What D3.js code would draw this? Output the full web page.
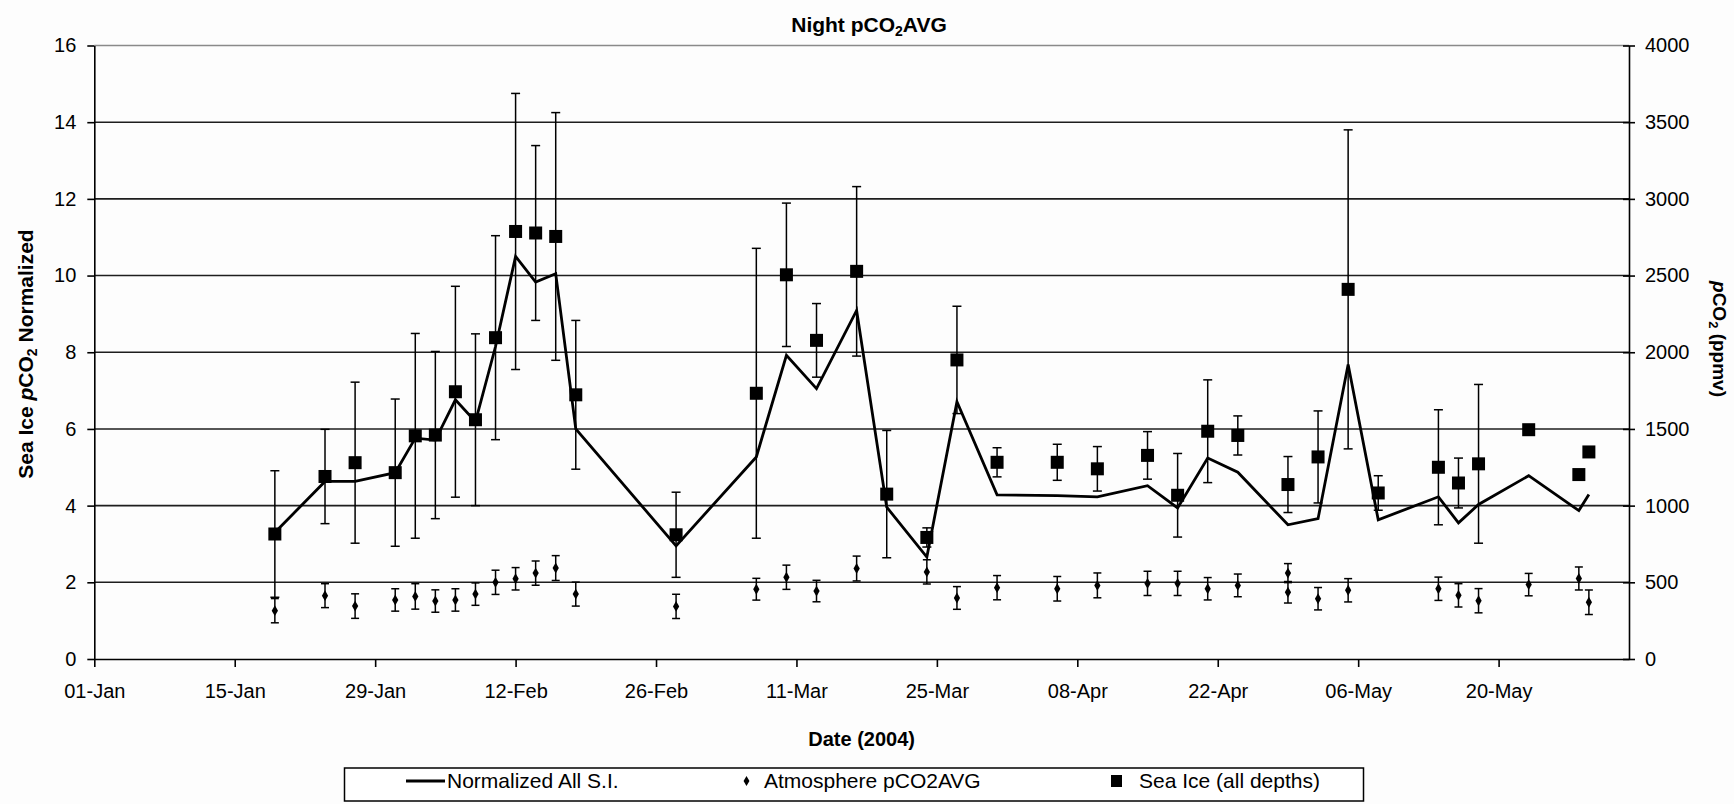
<!DOCTYPE html>
<html>
<head>
<meta charset="utf-8">
<title>Night pCO2AVG</title>
<script src="https://cdn.jsdelivr.net/npm/d3@7"></script>
<style>
  body { margin: 0; background: #fdfdfd; }
  svg { display: block; font-family: "Liberation Sans", Arial, sans-serif; }
  .tick text { font-size: 20px; fill: #000; }
  .domain, .tick line { stroke: #000; stroke-width: 1.6px; }
</style>
</head>
<body>
<svg id="chart" width="1734" height="804"></svg>
<script>
// sea ice (all depths) - sample dates, mean and +/- error
var siDates = ["2004-01-19","2004-01-24","2004-01-27","2004-01-31","2004-02-02","2004-02-04","2004-02-06",
  "2004-02-08","2004-02-10","2004-02-12","2004-02-14","2004-02-16","2004-02-18","2004-02-28","2004-03-07",
  "2004-03-10","2004-03-13","2004-03-17","2004-03-20","2004-03-24","2004-03-27","2004-03-31","2004-04-06",
  "2004-04-10","2004-04-15","2004-04-18","2004-04-21","2004-04-24","2004-04-29","2004-05-02","2004-05-05",
  "2004-05-08","2004-05-14","2004-05-16","2004-05-18","2004-05-23","2004-05-28","2004-05-29"];
var siValues = [3.26,4.76,5.12,4.86,5.82,5.84,6.97,6.24,8.38,11.15,11.11,11.02,6.89,3.24,6.93,
  10.02,8.31,10.11,4.30,3.17,7.80,5.13,5.13,4.96,5.31,4.27,5.94,5.83,4.55,5.27,9.64,
  4.33,5.00,4.59,5.09,5.98,4.81,5.40];
var siErr = [1.65,1.23,2.10,1.92,2.67,2.18,2.75,2.24,2.66,3.60,2.28,3.23,1.94,1.11,3.78,
  1.87,0.96,2.21,1.66,0.25,1.40,0.38,0.47,0.58,0.62,1.09,1.34,0.51,0.73,1.20,4.16,
  0.45,1.50,0.65,2.07,0,0,0];

// normalized all S.I. (same dates as siDates)
var normValues = [3.30,4.63,4.63,4.86,5.76,5.71,6.76,6.19,8.15,10.50,9.83,10.05,6.00,2.95,5.27,
  7.92,7.05,9.09,3.96,2.66,6.71,4.28,4.26,4.23,4.52,3.94,5.24,4.87,3.50,3.66,7.68,
  3.63,4.23,3.55,4.03,4.78,3.87,4.29];

// atmosphere pCO2AVG (ppmv, right axis)
var atmDates = ["2004-01-19","2004-01-24","2004-01-27","2004-01-31","2004-02-02","2004-02-04","2004-02-06",
  "2004-02-08","2004-02-10","2004-02-12","2004-02-14","2004-02-16","2004-02-18","2004-02-28","2004-03-07",
  "2004-03-10","2004-03-13","2004-03-17","2004-03-24","2004-03-27","2004-03-31","2004-04-06","2004-04-10",
  "2004-04-15","2004-04-18","2004-04-21","2004-04-24","2004-04-29","2004-04-29","2004-05-02","2004-05-05",
  "2004-05-14","2004-05-16","2004-05-18","2004-05-23","2004-05-28","2004-05-29"];
var atmValues = [315,413,345,385,408,378,385,423,500,523,560,593,423,343,455,
  533,443,590,568,398,465,458,480,493,493,458,480,560,435,393,448,
  458,415,380,485,525,370];
var atmErr = [79,78,80,73,83,73,73,73,79,73,79,81,78,79,71,
  79,70,81,79,74,79,80,81,79,79,73,74,62,70,73,76,
  76,76,79,73,75,80];

var xTickDates = ["2004-01-01","2004-01-15","2004-01-29","2004-02-12","2004-02-26","2004-03-11",
  "2004-03-25","2004-04-08","2004-04-22","2004-05-06","2004-05-20"];
var leftTicks = [0, 2, 4, 6, 8, 10, 12, 14, 16];
var rightTicks = [0, 500, 1000, 1500, 2000, 2500, 3000, 3500, 4000];
var legendLabels = ["Normalized All S.I.", "Atmosphere pCO2AVG", "Sea Ice (all depths)"];

var parse = d3.utcParse("%Y-%m-%d");
// plot area edges (note: "top" is a reserved window property)
var plotLeft = 94.3, plotRight = 1629, plotTop = 45.5, plotBottom = 659;

var x = d3.scaleUtc()
    .domain([parse("2004-01-01"), parse("2004-06-02")])
    .range([plotLeft, plotRight]);
var yL = d3.scaleLinear().domain([0, 16]).range([plotBottom, plotTop]);
var yR = d3.scaleLinear().domain([0, 4000]).range([plotBottom, plotTop]);

var svg = d3.select("#chart");
svg.append("rect").attr("width", 1734).attr("height", 804).attr("fill", "#fdfdfd");

// gridlines
svg.append("g").selectAll("line")
    .data(leftTicks.filter(d => d > 0))
    .enter().append("line")
    .attr("x1", plotLeft).attr("x2", plotRight)
    .attr("y1", d => yL(d)).attr("y2", d => yL(d))
    .attr("stroke", d => d === 16 ? "#8a8a8a" : "#1e1e1e")
    .attr("stroke-width", 1.6);

// axes
var xAxis = d3.axisBottom(x)
    .tickValues(xTickDates.map(parse))
    .tickFormat(d3.utcFormat("%d-%b"))
    .tickSizeInner(8).tickSizeOuter(0).tickPadding(17);
svg.append("g").attr("transform", "translate(0," + plotBottom + ")").call(xAxis);

svg.append("g").attr("transform", "translate(" + plotLeft + ",0)")
    .call(d3.axisLeft(yL).tickValues(leftTicks).tickSizeInner(7).tickSizeOuter(0).tickPadding(11));

var gr = svg.append("g").attr("transform", "translate(" + plotRight + ",0)")
    .call(d3.axisRight(yR).tickValues(rightTicks).tickFormat(d3.format("d"))
        .tickSizeInner(6).tickSizeOuter(0).tickPadding(10));
gr.selectAll(".tick line").attr("x1", -6);

// normalized line
var line = d3.line()
    .x((d, i) => x(parse(siDates[i])))
    .y(d => yL(d));
svg.append("path")
    .datum(normValues)
    .attr("d", line)
    .attr("fill", "none")
    .attr("stroke", "#000")
    .attr("stroke-width", 2.8)
    .attr("stroke-linejoin", "miter");

// error bars
function errBars(dates, vals, errs, ys, cap) {
    var g = svg.append("g").attr("stroke", "#000").attr("stroke-width", 1.5);
    vals.forEach(function (v, i) {
        if (!errs[i]) return;
        var cx = x(parse(dates[i]));
        var y1 = ys(v + errs[i]), y2 = ys(v - errs[i]);
        g.append("line").attr("x1", cx).attr("x2", cx).attr("y1", y1).attr("y2", y2);
        g.append("line").attr("x1", cx - cap).attr("x2", cx + cap).attr("y1", y1).attr("y2", y1);
        g.append("line").attr("x1", cx - cap).attr("x2", cx + cap).attr("y1", y2).attr("y2", y2);
    });
}
errBars(siDates, siValues, siErr, yL, 4.5);
errBars(atmDates, atmValues, atmErr, yR, 4);

// sea ice squares
svg.append("g").selectAll("rect")
    .data(siValues)
    .enter().append("rect")
    .attr("x", (d, i) => x(parse(siDates[i])) - 6.5)
    .attr("y", d => yL(d) - 6.5)
    .attr("width", 13).attr("height", 13)
    .attr("fill", "#000");

// atmosphere diamonds
svg.append("g").selectAll("path")
    .data(atmValues)
    .enter().append("path")
    .attr("d", d3.symbol().type(d3.symbolDiamond).size(34))
    .attr("transform", (d, i) => "translate(" + x(parse(atmDates[i])) + "," + yR(d) + ")")
    .attr("fill", "#000");

// titles
svg.append("text")
    .attr("x", 869).attr("y", 32)
    .attr("text-anchor", "middle")
    .attr("font-size", 21).attr("font-weight", "bold")
    .html('Night pCO<tspan font-size="14" dy="4">2</tspan><tspan dy="-4">AVG</tspan>');

svg.append("text")
    .attr("x", (plotLeft + plotRight) / 2).attr("y", 746)
    .attr("text-anchor", "middle")
    .attr("font-size", 20).attr("font-weight", "bold")
    .text("Date (2004)");

svg.append("text")
    .attr("transform", "translate(33,354) rotate(-90)")
    .attr("text-anchor", "middle")
    .attr("font-size", 21).attr("font-weight", "bold")
    .html('Sea Ice  <tspan font-style="italic">p</tspan>CO<tspan font-size="14" dy="4">2</tspan><tspan dy="-4"> Normalized</tspan>');

svg.append("text")
    .attr("transform", "translate(1713,339) rotate(90)")
    .attr("text-anchor", "middle")
    .attr("font-size", 19).attr("font-weight", "bold")
    .html('<tspan font-style="italic">p</tspan>CO<tspan font-size="13" dy="4">2</tspan><tspan dy="-4"> (ppmv)</tspan>');

// legend
var lg = svg.append("g");
lg.append("rect")
    .attr("x", 344.5).attr("y", 768).attr("width", 1019).attr("height", 33)
    .attr("fill", "#fff").attr("stroke", "#000").attr("stroke-width", 1.5);
lg.append("line").attr("x1", 406).attr("x2", 445).attr("y1", 781).attr("y2", 781)
    .attr("stroke", "#000").attr("stroke-width", 3);
lg.append("path").attr("d", d3.symbol().type(d3.symbolDiamond).size(30)())
    .attr("transform", "translate(746.5,781)");
lg.append("rect").attr("x", 1111).attr("y", 775).attr("width", 11).attr("height", 12);
var legendX = [447, 764, 1139];
lg.selectAll("text.lab")
    .data(legendLabels)
    .enter().append("text")
    .attr("class", "lab")
    .attr("x", (d, i) => legendX[i]).attr("y", 788)
    .attr("font-size", 21)
    .text(d => d);
</script>
</body>
</html>
